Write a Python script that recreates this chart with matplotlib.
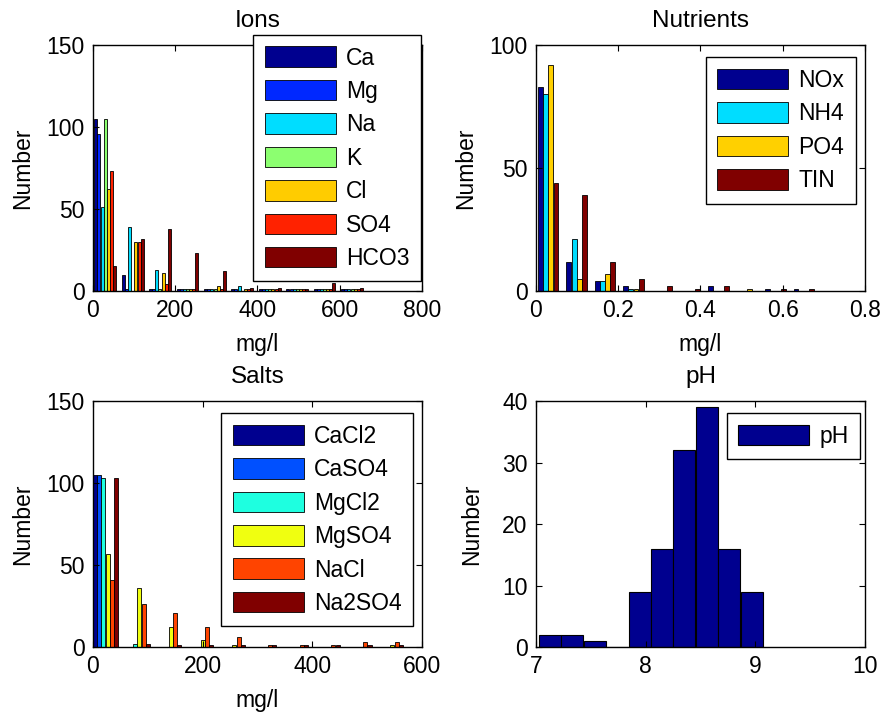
import numpy as np
import matplotlib
matplotlib.use("Agg")
import matplotlib.pyplot as plt

plt.rcParams["font.family"] = ["Liberation Sans", "DejaVu Sans"]
plt.rcParams["font.size"] = 16.5

# 離子 (mg/l)
ions_centers = [30, 97, 163, 230, 297, 363, 430, 497, 563, 630]
ions_names = ["Ca", "Mg", "Na", "K", "Cl", "SO4", "HCO3"]
ions_Ca = [105, 10, 1, 1, 1, 1, 1, 1, 1, 1]
ions_Mg = [96, 1, 1, 1, 1, 1, 1, 1, 1, 1]
ions_Na = [51, 39, 13, 1, 1, 3, 1, 1, 1, 1]
ions_K = [105, 0, 1, 1, 1, 0, 1, 1, 1, 1]
ions_Cl = [62, 30, 11, 1, 3, 1, 1, 1, 1, 1]
ions_SO4 = [73, 30, 4, 1, 1, 1, 1, 1, 1, 1]
ions_HCO3 = [15, 32, 38, 23, 12, 2, 2, 1, 5, 2]
ions_colors = ["#00008F", "#0028FF", "#00DDFF", "#8CFF70", "#FFCC00", "#FF2200", "#800000"]

# 營養鹽 (mg/l)
nut_centers = [0.030, 0.099, 0.168, 0.237, 0.306, 0.375, 0.444, 0.513, 0.582, 0.651]
nut_names = ["NOx", "NH4", "PO4", "TIN"]
nut_NOx = [83, 12, 4, 2, 0, 0, 2, 0, 1, 1]
nut_NH4 = [80, 21, 4, 1, 0, 0, 0, 0, 0, 0]
nut_PO4 = [92, 5, 7, 1, 0, 0, 0, 1, 0, 0]
nut_TIN = [44, 39, 12, 5, 2, 1, 2, 0, 1, 1]
nut_colors = ["#00008F", "#00DDFF", "#FFD000", "#800000"]

# 鹽類 (mg/l)
salt_centers = [23, 81, 138, 196, 254, 311, 369, 427, 485, 542]
salt_names = ["CaCl2", "CaSO4", "MgCl2", "MgSO4", "NaCl", "Na2SO4"]
salt_CaCl2 = [105, 0, 0, 0, 0, 0, 0, 0, 0, 0]
salt_CaSO4 = [105, 0, 0, 0, 0, 0, 0, 0, 0, 0]
salt_MgCl2 = [103, 2, 0, 0, 0, 0, 0, 0, 0, 0]
salt_MgSO4 = [57, 36, 12, 4, 1, 0, 0, 0, 0, 1]
salt_NaCl = [41, 26, 21, 12, 6, 1, 1, 1, 3, 3]
salt_Na2SO4 = [103, 2, 1, 1, 1, 1, 1, 1, 1, 1]
salt_colors = ["#00008F", "#0050FF", "#1EFFE0", "#F0FF10", "#FF4400", "#800000"]

# pH
ph_centers = [7.13, 7.33, 7.54, 7.74, 7.95, 8.15, 8.35, 8.56, 8.76, 8.97]
ph_counts = [2, 2, 1, 0, 9, 16, 32, 39, 16, 9]
ph_width = 0.204


# 畫分組直方圖 (像 MATLAB bar grouped)
def grouped_hist(ax, centers, series, names, colors):
    n = len(series)
    spacing = centers[1] - centers[0]
    group_w = min(0.8, n / (n + 1.5)) * spacing
    bw = group_w / n
    for i, (vals, name, c) in enumerate(zip(series, names, colors)):
        offs = (i - (n - 1) / 2) * bw
        ax.bar(np.array(centers) + offs, vals, width=bw * 0.95, color=c,
               edgecolor="black", linewidth=0.6, label=name)


def style_axes(ax, xlim, xticks, ylim, yticks, title, xlabel=None, ylpad=9):
    ax.set_xlim(xlim)
    ax.set_ylim(ylim)
    ax.set_xticks(xticks)
    ax.set_yticks(yticks)
    ax.set_xticklabels([f"{t:g}" for t in xticks])
    ax.tick_params(direction="in", top=True, right=True, length=4, width=0.8, pad=6)
    ax.set_title(title, fontsize=17.5, pad=13)
    ax.set_ylabel("Number", labelpad=ylpad)
    if xlabel:
        ax.set_xlabel(xlabel, labelpad=8)
    for s in ax.spines.values():
        s.set_linewidth(1.0)


def add_legend(ax, right, top):
    leg = ax.legend(loc="upper right", bbox_to_anchor=(right, top), fancybox=False,
                    framealpha=1, edgecolor="black", handlelength=3.1, handleheight=1.0,
                    handletextpad=0.45, labelspacing=0.45, borderpad=0.5,
                    borderaxespad=0)
    leg.get_frame().set_linewidth(1.0)


fig = plt.figure(figsize=(8.85, 7.14), dpi=100)
w, h = 0.3718, 0.3445
ax1 = fig.add_axes([0.105, 0.5924, w, h])
ax2 = fig.add_axes([0.6056, 0.5924, w, h])
ax3 = fig.add_axes([0.105, 0.0938, w, h])
ax4 = fig.add_axes([0.6056, 0.0938, w, h])

grouped_hist(ax1, ions_centers,
             [ions_Ca, ions_Mg, ions_Na, ions_K, ions_Cl, ions_SO4, ions_HCO3],
             ions_names, ions_colors)
style_axes(ax1, (0, 800), [0, 200, 400, 600, 800], (0, 150), [0, 50, 100, 150], "Ions", "mg/l")
add_legend(ax1, 0.997, 1.041)

grouped_hist(ax2, nut_centers, [nut_NOx, nut_NH4, nut_PO4, nut_TIN], nut_names, nut_colors)
style_axes(ax2, (0, 0.8), [0, 0.2, 0.4, 0.6, 0.8], (0, 100), [0, 50, 100], "Nutrients", "mg/l")
add_legend(ax2, 0.972, 0.95)

grouped_hist(ax3, salt_centers,
             [salt_CaCl2, salt_CaSO4, salt_MgCl2, salt_MgSO4, salt_NaCl, salt_Na2SO4],
             salt_names, salt_colors)
style_axes(ax3, (0, 600), [0, 200, 400, 600], (0, 150), [0, 50, 100, 150], "Salts", "mg/l")
add_legend(ax3, 0.973, 0.95)

ax4.bar(ph_centers, ph_counts, width=ph_width, color="#00008F", edgecolor="black",
        linewidth=0.8, label="pH")
style_axes(ax4, (7, 10), [7, 8, 9, 10], (0, 40), [0, 10, 20, 30, 40], "pH", ylpad=14)
add_legend(ax4, 0.985, 0.95)

fig.savefig("out.png", dpi=100)
